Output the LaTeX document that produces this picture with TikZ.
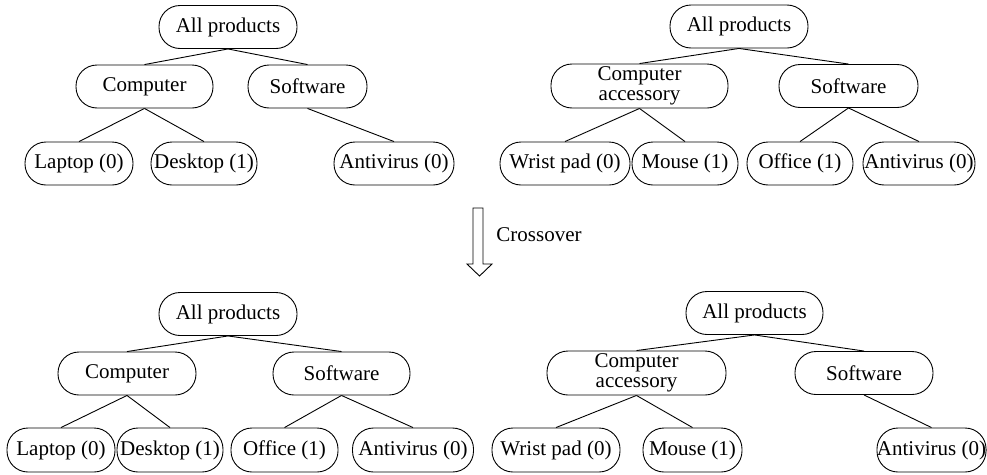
\documentclass[tikz,border=0pt]{standalone}
\usepackage{fontspec}
\setmainfont{Liberation Serif}
\begin{document}
\begin{tikzpicture}[x=1pt,y=-1pt,
  pill/.style={draw, rounded corners=21pt, minimum height=43pt, inner sep=0pt,
    align=center, font=\fontsize{21}{20.5}\selectfont},
  link/.style={line width=0.9pt},
  every node/.append style={line width=0.9pt}]
\useasboundingbox (0,0) rectangle (987,474);

% ---- parent tree 1 ----
\node[pill, minimum width=138pt] (a0) at (228,27) {All products};
\node[pill, minimum width=137pt] (a1) at (144.5,86.5) {Computer};
\node[pill, minimum width=119pt] (a2) at (307.5,86.5) {Software};
\node[pill, minimum width=108pt] (a3) at (79,163.5) {Laptop (0)};
\node[pill, minimum width=106pt] (a4) at (204,163.5) {Desktop (1)};
\node[pill, minimum width=120pt] (a5) at (394,163.5) {Antivirus (0)};
\draw[link] (a0.south) -- (a1.north);
\draw[link] (a0.south) -- (a2.north);
\draw[link] (a1.south) -- (a3.north);
\draw[link] (a1.south) -- (a4.north);
\draw[link] (a2.south) -- (a5.north);

% ---- parent tree 2 ----
\node[pill, minimum width=138pt] (b0) at (739,26.5) {All products};
\node[pill, minimum width=177pt, minimum height=44pt] (b1) at (639.5,86) {Computer\\accessory};
\node[pill, minimum width=139pt] (b2) at (848.5,86) {Software};
\node[pill, minimum width=130pt] (b3) at (565,163.5) {Wrist pad (0)};
\node[pill, minimum width=106pt] (b4) at (685,163.5) {Mouse (1)};
\node[pill, minimum width=106pt] (b5) at (800,163.5) {Office (1)};
\node[pill, minimum width=112pt] (b6) at (919,163.5) {Antivirus (0)};
\draw[link] (b0.south) -- (b1.north);
\draw[link] (b0.south) -- (b2.north);
\draw[link] (b1.south) -- (b3.north);
\draw[link] (b1.south) -- (b4.north);
\draw[link] (b2.south) -- (b5.north);
\draw[link] (b2.south) -- (b6.north);

% ---- crossover arrow ----
\draw[line width=0.9pt] (473,208) -- (483,208) -- (483,264) -- (492,264)
  -- (479.5,276) -- (467,264) -- (473,264) -- cycle;
\node[anchor=west, inner sep=0pt, font=\fontsize{21}{20.5}\selectfont] (xo) at (496,235) {Crossover};

% ---- offspring tree 1 ----
\node[pill, minimum width=138pt] (c0) at (228,314) {All products};
\node[pill, minimum width=138pt] (c1) at (127,373.5) {Computer};
\node[pill, minimum width=137pt] (c2) at (341.5,373.5) {Software};
\node[pill, minimum width=108pt, minimum height=44pt] (c3) at (61,450) {Laptop (0)};
\node[pill, minimum width=106pt, minimum height=44pt] (c4) at (170,450) {Desktop (1)};
\node[pill, minimum width=107pt, minimum height=44pt] (c5) at (284.5,450) {Office (1)};
\node[pill, minimum width=121pt, minimum height=44pt] (c6) at (413,450) {Antivirus (0)};
\draw[link] (c0.south) -- (c1.north);
\draw[link] (c0.south) -- (c2.north);
\draw[link] (c1.south) -- (c3.north);
\draw[link] (c1.south) -- (c4.north);
\draw[link] (c2.south) -- (c5.north);
\draw[link] (c2.south) -- (c6.north);

% ---- offspring tree 2 ----
\node[pill, minimum width=137pt] (d0) at (754.5,313) {All products};
\node[pill, minimum width=179pt, minimum height=44pt] (d1) at (636.5,373) {Computer\\accessory};
\node[pill, minimum width=138pt] (d2) at (864,373) {Software};
\node[pill, minimum width=128pt, minimum height=44pt] (d3) at (556,450) {Wrist pad (0)};
\node[pill, minimum width=99pt, minimum height=44pt] (d4) at (692.5,450) {Mouse (1)};
\node[pill, minimum width=107pt, minimum height=44pt] (d5) at (931.5,450) {Antivirus (0)};
\draw[link] (d0.south) -- (d1.north);
\draw[link] (d0.south) -- (d2.north);
\draw[link] (d1.south) -- (d3.north);
\draw[link] (d1.south) -- (d4.north);
\draw[link] (d2.south) -- (d5.north);
\end{tikzpicture}
\end{document}
